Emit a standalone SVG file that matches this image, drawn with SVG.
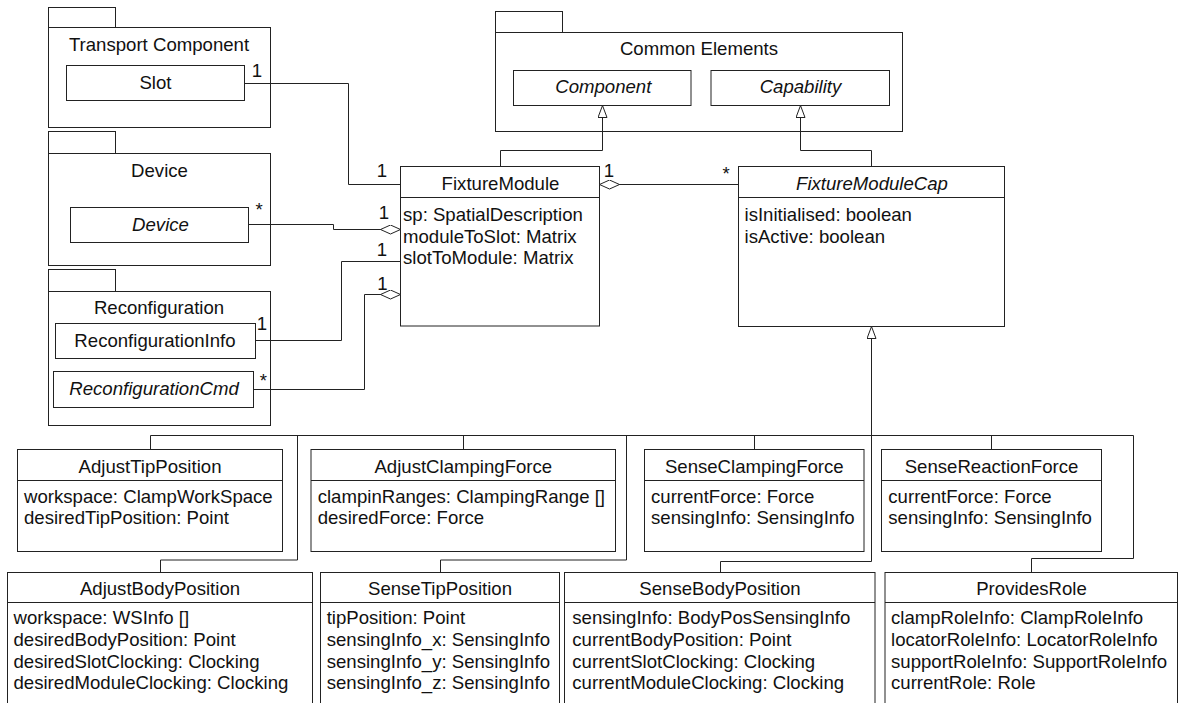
<svg xmlns="http://www.w3.org/2000/svg" width="1179" height="703" viewBox="0 0 1179 703">
<style>
.bx{fill:#fff;stroke:#222;stroke-width:1}
.ln{fill:none;stroke:#222;stroke-width:1}
text{font-family:"Liberation Sans",Arial,Helvetica,sans-serif;font-size:18.6px;fill:#111}
.c{text-anchor:middle}
.i{font-style:italic}
</style>
<defs>
<marker id="gen" viewBox="0 0 13 10" refX="12.5" refY="5" markerWidth="13" markerHeight="10" markerUnits="userSpaceOnUse" orient="auto">
<path d="M0.5,0.5 L12.5,5 L0.5,9.5 Z" fill="#fff" stroke="#222" stroke-width="1"/>
</marker>
<marker id="agg" viewBox="0 0 21 10" refX="20.5" refY="5" markerWidth="21" markerHeight="10" markerUnits="userSpaceOnUse" orient="auto">
<path d="M0.5,5 L10.5,0.5 L20.5,5 L10.5,9.5 Z" fill="#fff" stroke="#222" stroke-width="1"/>
</marker>
</defs>
<rect width="1179" height="703" fill="#fff"/>

<g id="pkg-transport">
<rect class="bx" x="48.5" y="7.5" width="67" height="20"/>
<rect class="bx" x="48.5" y="27.5" width="222" height="100"/>
<text class="c" x="159" y="50.5">Transport Component</text>
<g id="slot">
<rect class="bx" x="66.5" y="65.5" width="178" height="35"/>
<text class="c" x="155.5" y="88.5">Slot</text>
</g>
</g>

<g id="pkg-device">
<rect class="bx" x="48.5" y="131.5" width="67" height="22"/>
<rect class="bx" x="48.5" y="153.5" width="222" height="112"/>
<text class="c" x="159.5" y="176.7">Device</text>
<g id="device">
<rect class="bx" x="70.5" y="207.5" width="178" height="35"/>
<text class="c i" x="160.5" y="231">Device</text>
</g>
</g>

<g id="pkg-reconfiguration">
<rect class="bx" x="48.5" y="269.5" width="67" height="22"/>
<rect class="bx" x="48.5" y="291.5" width="222" height="134"/>
<text class="c" x="159" y="314">Reconfiguration</text>
<g id="reconfigurationinfo">
<rect class="bx" x="55.5" y="323.5" width="200" height="35"/>
<text class="c" x="155" y="347">ReconfigurationInfo</text>
</g>
<g id="reconfigurationcmd">
<rect class="bx" x="53.5" y="371.5" width="200" height="36"/>
<text class="c i" x="154" y="394.5">ReconfigurationCmd</text>
</g>
</g>

<g id="pkg-common">
<rect class="bx" x="495.5" y="11.5" width="67" height="21"/>
<rect class="bx" x="495.5" y="32.5" width="407" height="99"/>
<text class="c" x="699" y="54.5">Common Elements</text>
<g id="component">
<rect class="bx" x="513.5" y="70.5" width="177.5" height="35"/>
<text class="c i" x="603.3" y="92.5">Component</text>
</g>
<g id="capability">
<rect class="bx" x="711" y="70.5" width="178.5" height="35"/>
<text class="c i" x="800.5" y="92.5">Capability</text>
</g>
</g>

<g id="fixturemodule">
<rect class="bx" x="400.5" y="166.5" width="199" height="159.5"/>
<line class="ln" x1="400.5" y1="197.5" x2="599.5" y2="197.5"/>
<text class="c" x="500.5" y="190">FixtureModule</text>
<text x="403" y="221">sp: SpatialDescription</text>
<text x="403" y="242.5">moduleToSlot: Matrix</text>
<text x="403" y="264">slotToModule: Matrix</text>
</g>

<g id="fixturemodulecap">
<rect class="bx" x="738.5" y="166.5" width="266" height="160"/>
<line class="ln" x1="738.5" y1="197.5" x2="1004.5" y2="197.5"/>
<text class="c i" x="872" y="190">FixtureModuleCap</text>
<text x="744.5" y="221">isInitialised: boolean</text>
<text x="744.5" y="242.5">isActive: boolean</text>
</g>

<g id="adjusttipposition">
<rect class="bx" x="17.5" y="449.5" width="265" height="102"/>
<line class="ln" x1="17.5" y1="480.5" x2="282.5" y2="480.5"/>
<text class="c" x="150" y="472.5">AdjustTipPosition</text>
<text x="24" y="502.5">workspace: ClampWorkSpace</text>
<text x="24" y="524">desiredTipPosition: Point</text>
</g>

<g id="adjustclampingforce">
<rect class="bx" x="311" y="449.5" width="304.5" height="102"/>
<line class="ln" x1="311" y1="480.5" x2="615.5" y2="480.5"/>
<text class="c" x="463.3" y="472.5">AdjustClampingForce</text>
<text x="317.7" y="502.5">clampinRanges: ClampingRange []</text>
<text x="317.7" y="524">desiredForce: Force</text>
</g>

<g id="senseclampingforce">
<rect class="bx" x="644.5" y="449.5" width="219.5" height="102"/>
<line class="ln" x1="644.5" y1="480.5" x2="864" y2="480.5"/>
<text class="c" x="754.3" y="472.5">SenseClampingForce</text>
<text x="651" y="502.5">currentForce: Force</text>
<text x="651" y="524">sensingInfo: SensingInfo</text>
</g>

<g id="sensereactionforce">
<rect class="bx" x="881.5" y="449.5" width="220" height="102"/>
<line class="ln" x1="881.5" y1="480.5" x2="1101.5" y2="480.5"/>
<text class="c" x="991.5" y="472.5">SenseReactionForce</text>
<text x="888.3" y="502.5">currentForce: Force</text>
<text x="888.3" y="524">sensingInfo: SensingInfo</text>
</g>

<g id="adjustbodyposition">
<rect class="bx" x="7.5" y="572.5" width="305" height="140"/>
<line class="ln" x1="7.5" y1="602.5" x2="312.5" y2="602.5"/>
<text class="c" x="160" y="595">AdjustBodyPosition</text>
<text x="13.5" y="624">workspace: WSInfo []</text>
<text x="13.5" y="646">desiredBodyPosition: Point</text>
<text x="13.5" y="667.7">desiredSlotClocking: Clocking</text>
<text x="13.5" y="689.3">desiredModuleClocking: Clocking</text>
</g>

<g id="sensetipposition">
<rect class="bx" x="320.5" y="572.5" width="239" height="140"/>
<line class="ln" x1="320.5" y1="602.5" x2="559.5" y2="602.5"/>
<text class="c" x="440" y="595">SenseTipPosition</text>
<text x="326.7" y="624">tipPosition: Point</text>
<text x="326.7" y="646">sensingInfo_x: SensingInfo</text>
<text x="326.7" y="667.7">sensingInfo_y: SensingInfo</text>
<text x="326.7" y="689.3">sensingInfo_z: SensingInfo</text>
</g>

<g id="sensebodyposition">
<rect class="bx" x="564.5" y="572.5" width="310.5" height="140"/>
<line class="ln" x1="564.5" y1="602.5" x2="875" y2="602.5"/>
<text class="c" x="720" y="595">SenseBodyPosition</text>
<text x="572.3" y="624">sensingInfo: BodyPosSensingInfo</text>
<text x="572.3" y="646">currentBodyPosition: Point</text>
<text x="572.3" y="667.7">currentSlotClocking: Clocking</text>
<text x="572.3" y="689.3">currentModuleClocking: Clocking</text>
</g>

<g id="providesrole">
<rect class="bx" x="885" y="572.5" width="292.5" height="140"/>
<line class="ln" x1="885" y1="602.5" x2="1177.5" y2="602.5"/>
<text class="c" x="1031.5" y="595">ProvidesRole</text>
<text x="891" y="624">clampRoleInfo: ClampRoleInfo</text>
<text x="891" y="646">locatorRoleInfo: LocatorRoleInfo</text>
<text x="891" y="667.7">supportRoleInfo: SupportRoleInfo</text>
<text x="891" y="689.3">currentRole: Role</text>
</g>

<g id="connectors">
<!-- Slot - FixtureModule -->
<polyline class="ln" points="244.5,83.5 348.5,83.5 348.5,184.5 400.5,184.5"/>
<text class="c" x="257" y="76.7">1</text>
<text class="c" x="382" y="176.7">1</text>
<!-- Device - FixtureModule (aggregation) -->
<polyline class="ln" points="248.5,224.5 333.5,224.5 333.5,229.5 400.5,229.5" marker-end="url(#agg)"/>
<text class="c" x="259" y="215.6">*</text>
<text class="c" x="384" y="219.3">1</text>
<!-- ReconfigurationInfo - FixtureModule -->
<polyline class="ln" points="255.5,340.5 341.5,340.5 341.5,261.5 400.5,261.5"/>
<text class="c" x="262" y="330">1</text>
<text class="c" x="382" y="256">1</text>
<!-- ReconfigurationCmd - FixtureModule (aggregation) -->
<polyline class="ln" points="253.5,389.5 364.5,389.5 364.5,294.5 400.5,294.5" marker-end="url(#agg)"/>
<text class="c" x="263.3" y="387">*</text>
<text class="c" x="382.5" y="289.5">1</text>
<!-- FixtureModuleCap - FixtureModule (aggregation) -->
<polyline class="ln" points="738.5,184.5 599.5,184.5" marker-end="url(#agg)"/>
<text class="c" x="609" y="176.7">1</text>
<text class="c" x="726" y="179.5">*</text>
<!-- Generalizations to Common Elements -->
<polyline class="ln" points="500.5,166.5 500.5,150.5 602.5,150.5 602.5,105.5" marker-end="url(#gen)"/>
<polyline class="ln" points="871.5,166.5 871.5,150.5 800.5,150.5 800.5,105.5" marker-end="url(#gen)"/>
<!-- Generalization tree to FixtureModuleCap -->
<polyline class="ln" points="871.5,561.5 871.5,326.5" marker-end="url(#gen)"/>
<polyline class="ln" points="150.5,449.5 150.5,435.5 1133.5,435.5 1133.5,558.5 1031.5,558.5 1031.5,572.5"/>
<polyline class="ln" points="297.5,435.5 297.5,560 160.5,560 160.5,572.5"/>
<polyline class="ln" points="463.5,435.5 463.5,449.5"/>
<polyline class="ln" points="626.5,435.5 626.5,560 440.5,560 440.5,572.5"/>
<polyline class="ln" points="754.5,435.5 754.5,449.5"/>
<polyline class="ln" points="871.5,561.5 720.5,561.5 720.5,572.5"/>
<polyline class="ln" points="991.5,435.5 991.5,449.5"/>
</g>
</svg>
